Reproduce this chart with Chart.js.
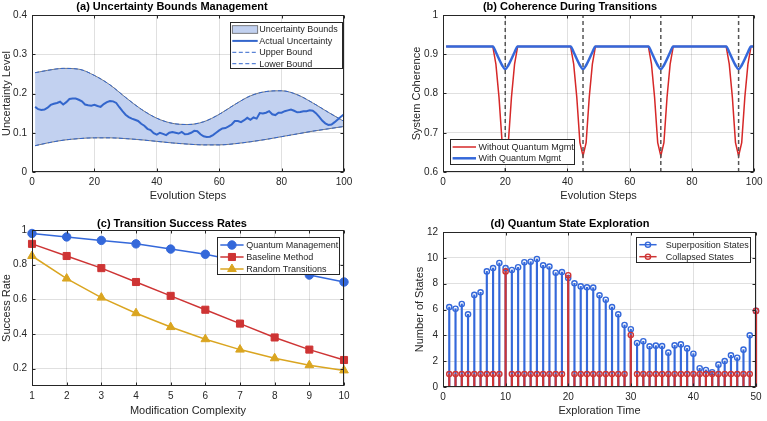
<!DOCTYPE html>
<html><head><meta charset="utf-8">
<script src="https://cdn.jsdelivr.net/npm/chart.js@4.4.0/dist/chart.umd.min.js"></script>
<style>
html,body{margin:0;padding:0;background:#fff;}
body{width:767px;height:421px;position:relative;overflow:hidden;}
canvas{position:absolute;display:block;}
</style></head><body>
<canvas id="ca" width="384" height="210" style="left:0;top:0"></canvas>
<canvas id="cb" width="383" height="210" style="left:384px;top:0"></canvas>
<canvas id="cc" width="384" height="211" style="left:0;top:210px"></canvas>
<canvas id="cd" width="383" height="211" style="left:384px;top:210px"></canvas>
<script>
// ---------- DATA ----------
// (a) Uncertainty Bounds Management
const actualUncertainty = [0.166,0.160,0.158,0.159,0.164,0.171,0.174,0.176,0.179,0.172,
0.178,0.186,0.187,0.187,0.184,0.180,0.172,0.170,0.169,0.171,
0.168,0.166,0.173,0.178,0.181,0.180,0.176,0.165,0.155,0.146,
0.140,0.136,0.133,0.130,0.123,0.118,0.110,0.107,0.099,0.095,
0.100,0.097,0.094,0.100,0.102,0.100,0.098,0.102,0.096,0.097,
0.100,0.105,0.104,0.096,0.091,0.089,0.090,0.094,0.100,0.106,
0.111,0.112,0.116,0.121,0.130,0.130,0.127,0.132,0.138,0.133,
0.139,0.136,0.150,0.149,0.151,0.155,0.147,0.145,0.151,0.151,
0.155,0.157,0.159,0.156,0.152,0.153,0.155,0.155,0.157,0.156,
0.150,0.141,0.131,0.124,0.120,0.121,0.127,0.134,0.141,0.147];
const boundSteps = [1,5,10,15,20,25,30,35,40,45,50,55,60,65,70,75,80,85,90,95,100];
const upperBound = [0.253,0.259,0.264,0.262,0.246,0.222,0.190,0.160,0.137,0.124,0.121,0.128,0.147,0.172,0.194,0.205,0.207,0.197,0.176,0.152,0.129];
const lowerBound = [0.067,0.074,0.081,0.085,0.087,0.087,0.085,0.082,0.078,0.074,0.071,0.069,0.069,0.072,0.077,0.083,0.090,0.097,0.104,0.110,0.116];
const aXTicks = [0,20,40,60,80,100];
const aYTicks = [0,0.1,0.2,0.3,0.4];

// (b) Coherence During Transitions
const cohSteps = [1,16,17,18,19,20,21,22,23,24,41,42,43,44,45,46,47,48,49,66,67,68,69,70,71,72,73,74,91,92,93,94,95,96,97,98,99,100];
const cohWithout = [0.92,0.92,0.875,0.79,0.675,0.641,0.675,0.79,0.875,0.92,
0.92,0.875,0.79,0.675,0.641,0.675,0.79,0.875,0.92,
0.92,0.875,0.79,0.675,0.641,0.675,0.79,0.875,0.92,
0.92,0.875,0.79,0.675,0.641,0.675,0.79,0.875,0.92,0.92];
const cohWith = [0.92,0.92,0.905,0.888,0.872,0.862,0.872,0.888,0.905,0.92,
0.92,0.905,0.888,0.872,0.862,0.872,0.888,0.905,0.92,
0.92,0.905,0.888,0.872,0.862,0.872,0.888,0.905,0.92,
0.92,0.905,0.888,0.872,0.862,0.872,0.888,0.905,0.92,0.92];
const transitionSteps = [20,45,70,95];
const bXTicks = [0,20,40,60,80,100];
const bYTicks = [0.6,0.7,0.8,0.9,1];

// (c) Transition Success Rates
const complexity = [1,2,3,4,5,6,7,8,9,10];
const quantumMgmt = [0.98,0.96,0.94,0.92,0.89,0.86,0.82,0.78,0.74,0.70];
const baselineMethod = [0.92,0.85,0.78,0.70,0.62,0.54,0.46,0.38,0.31,0.25];
const randomTransitions = [0.85,0.72,0.61,0.52,0.44,0.37,0.31,0.26,0.22,0.19];
const cXTicks = [1,2,3,4,5,6,7,8,9,10];
const cYTicks = [0.2,0.4,0.6,0.8,1];

// (d) Quantum State Exploration
const exploreTime = [1,2,3,4,5,6,7,8,9,10,11,12,13,14,15,16,17,18,19,20,21,22,23,24,25,26,27,28,29,30,31,32,33,34,35,36,37,38,39,40,41,42,43,44,45,46,47,48,49,50];
const superpositionStates = [6.19,6.06,6.43,5.63,7.13,7.33,8.95,9.21,9.60,9.20,
9.06,9.27,9.66,9.70,9.91,9.42,9.32,8.85,8.90,8.44,
8.03,7.79,7.72,7.69,7.10,6.76,6.19,5.63,4.80,4.47,
3.41,3.54,3.15,3.20,3.17,2.66,3.22,3.30,2.99,2.58,
1.45,1.32,1.14,1.73,2.01,2.45,2.27,2.89,4.00,5.89];
const collapsedStates = [1,1,1,1,1,1,1,1,1,8.95,
1,1,1,1,1,1,1,1,1,8.65,
1,1,1,1,1,1,1,1,1,4.03,
1,1,1,1,1,1,1,1,1,1,
1,1,1,1,1,1,1,1,1,5.89];
const dXTicks = [0,10,20,30,40,50];
const dYTicks = [0,2,4,6,8,10,12];

// ---------- STYLE ----------
const FONT = "'Liberation Sans', Arial, Helvetica, sans-serif";
const TXT = '#262626';
const GRID = 'rgba(0,0,0,0.12)';
const BLUE = 'rgb(51,102,204)';
const BLUE2 = 'rgb(52,104,218)';
const RED = 'rgb(214,40,40)';
const RED2 = 'rgb(206,52,52)';
const GOLD = 'rgb(218,165,32)';
const FILL = 'rgb(194,209,240)';
const EDGE = 'rgba(70,70,70,0.85)';

function drawMarker(ctx, style, x, y, r, fill, stroke, lw){
  ctx.beginPath();
  if(style==='circle'){ ctx.arc(x,y,r,0,Math.PI*2); }
  else if(style==='rect'){ const h=Math.SQRT1_2*r; ctx.rect(x-h,y-h,2*h,2*h); }
  else if(style==='triangle'){
    let a=0; const t=2*Math.PI/3;
    ctx.moveTo(x+Math.sin(a)*r, y-Math.cos(a)*r); a+=t;
    ctx.lineTo(x+Math.sin(a)*r, y-Math.cos(a)*r); a+=t;
    ctx.lineTo(x+Math.sin(a)*r, y-Math.cos(a)*r); ctx.closePath();
  }
  if(fill){ ctx.fillStyle=fill; ctx.fill(); }
  if(stroke){ ctx.strokeStyle=stroke; ctx.lineWidth=lw; ctx.stroke(); }
}

const boxPlugin = {
  id:'matBox',
  afterDatasetsDraw(chart){
    const {ctx, chartArea:a, scales:{x,y}} = chart;
    ctx.save();
    ctx.strokeStyle = TXT; ctx.lineWidth = 1;
    const L=Math.round(a.left)+0.5, R=Math.round(a.right)-0.5, T=Math.round(a.top)+0.5, B=Math.round(a.bottom)-0.5;
    const tl = 3;
    ctx.beginPath();
    x.ticks.forEach(t=>{ const p=Math.round(x.getPixelForValue(t.value))+0.5;
      ctx.moveTo(p,B); ctx.lineTo(p,B-tl); ctx.moveTo(p,T); ctx.lineTo(p,T+tl); });
    y.ticks.forEach(t=>{ const p=Math.round(y.getPixelForValue(t.value))+0.5;
      ctx.moveTo(L,p); ctx.lineTo(L+tl,p); ctx.moveTo(R,p); ctx.lineTo(R-tl,p); });
    ctx.stroke();
    ctx.strokeRect(L,T,R-L,B-T);
    ctx.restore();
  }
};

const legendPlugin = {
  id:'matLegend',
  afterDraw(chart, args, o){
    if(!o || !o.items) return;
    const ctx = chart.ctx, ds = chart.data.datasets;
    ctx.save();
    ctx.fillStyle='#fff'; ctx.fillRect(o.x,o.y,o.w,o.h);
    ctx.strokeStyle=TXT; ctx.lineWidth=1;
    ctx.strokeRect(Math.round(o.x)+0.5, Math.round(o.y)+0.5, Math.round(o.w), Math.round(o.h));
    o.items.forEach((it,i)=>{
      const cy = o.y + o.row0 + i*o.rowH;
      const x0 = o.x + o.s0, x1 = o.x + o.s1;
      if(it.kind==='patch'){
        ctx.fillStyle=it.fill; ctx.fillRect(x0,cy-3.8,x1-x0,7.6);
        ctx.strokeStyle=it.stroke; ctx.lineWidth=0.8; ctx.strokeRect(x0,cy-3.8,x1-x0,7.6);
      } else {
        ctx.strokeStyle=it.color; ctx.lineWidth=it.width; ctx.setLineDash(it.dash||[]);
        ctx.beginPath(); ctx.moveTo(x0,cy); ctx.lineTo(it.lineEnd!==undefined ? o.x+it.lineEnd : x1,cy); ctx.stroke();
        ctx.setLineDash([]);
        if(it.marker){
          const m = it.marker;
          const mx = m.at!==undefined ? o.x+m.at : (x0+x1)/2;
          drawMarker(ctx, m.style, mx, cy, m.r, m.fill, m.stroke, m.lw);
        }
      }
      ctx.fillStyle=TXT; ctx.font = '9px '+FONT; ctx.textBaseline='middle'; ctx.textAlign='left';
      ctx.fillText(ds[it.ds].label, o.x+o.tx, cy+0.5);
    });
    ctx.restore();
  }
};

function scaleX(c){
  return {type:'linear', min:c.min, max:c.max, offset:false,
    afterBuildTicks:s=>{ s.ticks = c.ticks.map(v=>({value:v})); },
    afterFit:s=>{ s.height = c.h; },
    grid:{color:GRID, lineWidth:1, drawTicks:false, offset:false},
    border:{display:false},
    ticks:{padding:4.5, color:TXT, font:{family:FONT,size:10}, maxRotation:0, autoSkip:false, callback:v=>String(v)},
    title:{display:true, text:c.title, color:TXT, font:{family:FONT,size:11,lineHeight:1.2}, padding:{top:0,bottom:c.tp}}
  };
}
function scaleY(c){
  return {type:'linear', min:c.min, max:c.max,
    afterBuildTicks:s=>{ s.ticks = c.ticks.map(v=>({value:v})); },
    afterFit:s=>{ s.width = c.w; },
    grid:{color:GRID, lineWidth:1, drawTicks:false},
    border:{display:false},
    ticks:{padding:5, color:TXT, font:{family:FONT,size:10}, autoSkip:false, callback:v=>String(v)},
    title:{display:true, text:c.title, color:TXT, font:{family:FONT,size:11,lineHeight:1.2}, padding:{top:c.tp,bottom:0}}
  };
}
function baseOpts(c){
  return {
    responsive:false, animation:false, events:[],
    layout:{padding:{left:0,right:c.pr,top:c.pt,bottom:0}, autoPadding:false},
    plugins:{
      legend:{display:false}, tooltip:{enabled:false},
      title:{display:true, text:c.title, color:'#000', font:{family:FONT,size:11,weight:'bold',lineHeight:c.tlh+'px'}, padding:{top:0,bottom:c.tpb}},
      matLegend:c.legend
    },
    scales:{x:scaleX(c.x), y:scaleY(c.y)}
  };
}
const pts = (xs,ys)=>xs.map((x,i)=>({x:x,y:ys[i]}));

// ---------- (a) ----------
new Chart(document.getElementById('ca'), {
  type:'line',
  data:{datasets:[
    {label:'Uncertainty Bounds', data:pts(boundSteps,upperBound), borderColor:EDGE, borderWidth:0.8, backgroundColor:FILL, fill:'+1', pointRadius:0, cubicInterpolationMode:'monotone', order:5},
    {label:'', data:pts(boundSteps,lowerBound), borderColor:EDGE, borderWidth:0.8, fill:false, pointRadius:0, cubicInterpolationMode:'monotone', order:4},
    {label:'Actual Uncertainty', data:actualUncertainty.map((v,i)=>({x:i+1,y:v})), borderColor:BLUE, borderWidth:2, fill:false, pointRadius:0, order:3},
    {label:'Upper Bound', data:pts(boundSteps,upperBound), borderColor:BLUE, borderWidth:1, borderDash:[4,2.5], fill:false, pointRadius:0, cubicInterpolationMode:'monotone', order:2},
    {label:'Lower Bound', data:pts(boundSteps,lowerBound), borderColor:BLUE, borderWidth:1, borderDash:[4,2.5], fill:false, pointRadius:0, cubicInterpolationMode:'monotone', order:1}
  ]},
  options: baseOpts({pr:40, pt:0, title:'(a) Uncertainty Bounds Management', tlh:14, tpb:1,
    x:{min:0,max:100,ticks:aXTicks,h:38,title:'Evolution Steps',tp:7.4},
    y:{min:0,max:0.4,ticks:aYTicks,w:32,title:'Uncertainty Level',tp:0.7},
    legend:{x:230,y:22,w:112,h:46,row0:7.5,rowH:11.4,s0:2.3,s1:27.7,tx:29.3,items:[
      {ds:0,kind:'patch',fill:FILL,stroke:EDGE},
      {ds:2,color:BLUE,width:2},
      {ds:3,color:BLUE,width:1,dash:[4,2.5]},
      {ds:4,color:BLUE,width:1,dash:[4,2.5]}
    ]}
  }),
  plugins:[boxPlugin, legendPlugin]
});

// ---------- (b) ----------
const bDatasets = [
  {label:'Without Quantum Mgmt', data:pts(cohSteps,cohWithout), borderColor:RED, borderWidth:1.5, fill:false, pointRadius:0, order:10},
  {label:'With Quantum Mgmt', data:pts(cohSteps,cohWith), borderColor:BLUE2, borderWidth:2.5, fill:false, pointRadius:0, cubicInterpolationMode:'monotone', order:9}
];
transitionSteps.forEach((t,i)=>bDatasets.push({label:'', data:[{x:t,y:bYTicks[0]},{x:t,y:bYTicks[bYTicks.length-1]}], borderColor:'rgb(85,85,85)', borderWidth:1.5, borderDash:[4,3], fill:false, pointRadius:0, order:1}));
new Chart(document.getElementById('cb'), {
  type:'line',
  data:{datasets:bDatasets},
  options: baseOpts({pr:11, pt:0, title:'(b) Coherence During Transitions', tlh:14, tpb:1,
    x:{min:0,max:100,ticks:bXTicks,h:38,title:'Evolution Steps',tp:7.4},
    y:{min:0.6,max:1,ticks:bYTicks,w:59,title:'System Coherence',tp:26.7},
    legend:{x:66,y:139,w:123.5,h:25,row0:8,rowH:11.3,s0:2.6,s1:26,tx:28.6,items:[
      {ds:0,color:RED,width:1.5},
      {ds:1,color:BLUE2,width:2.5}
    ]}
  }),
  plugins:[boxPlugin, legendPlugin]
});

// ---------- (c) ----------
new Chart(document.getElementById('cc'), {
  type:'line',
  data:{datasets:[
    {label:'Quantum Management', data:pts(complexity,quantumMgmt), borderColor:BLUE2, backgroundColor:BLUE2, borderWidth:1.5, pointStyle:'circle', pointRadius:4.2, pointBorderWidth:1, pointBackgroundColor:BLUE2, pointBorderColor:BLUE2, fill:false, clip:false, order:3},
    {label:'Baseline Method', data:pts(complexity,baselineMethod), borderColor:RED2, backgroundColor:RED2, borderWidth:1.5, pointStyle:'rect', pointRadius:5, pointBorderWidth:1, pointBackgroundColor:RED2, pointBorderColor:RED2, fill:false, clip:false, order:2},
    {label:'Random Transitions', data:pts(complexity,randomTransitions), borderColor:GOLD, backgroundColor:GOLD, borderWidth:1.5, pointStyle:'triangle', pointRadius:5, pointBorderWidth:1, pointBackgroundColor:GOLD, pointBorderColor:GOLD, fill:false, clip:false, order:1}
  ]},
  options: baseOpts({pr:40, pt:8, title:'(c) Transition Success Rates', tlh:12, tpb:0,
    x:{min:1,max:10,ticks:cXTicks,h:35,title:'Modification Complexity',tp:3.4},
    y:{min:0.1,max:1,ticks:cYTicks,w:32,title:'Success Rate',tp:0.7},
    legend:{x:217,y:27,w:121.5,h:37,row0:8,rowH:12,s0:3.3,s1:26.6,tx:29.3,items:[
      {ds:0,color:BLUE2,width:1.5,marker:{style:'circle',r:4.2,fill:BLUE2,stroke:BLUE2,lw:1}},
      {ds:1,color:RED2,width:1.5,marker:{style:'rect',r:5,fill:RED2,stroke:RED2,lw:1}},
      {ds:2,color:GOLD,width:1.5,marker:{style:'triangle',r:5,fill:GOLD,stroke:GOLD,lw:1}}
    ]}
  }),
  plugins:[boxPlugin, legendPlugin]
});

// ---------- (d) ----------
const dOpts = baseOpts({pr:11, pt:8, title:'(d) Quantum State Exploration', tlh:12, tpb:2,
    x:{min:0,max:50,ticks:dXTicks,h:34,title:'Exploration Time',tp:3.4},
    y:{min:0,max:12,ticks:dYTicks,w:59,title:'Number of States',tp:29.4},
    legend:{x:252,y:27,w:114,h:25,row0:7.7,rowH:12,s0:3.3,s1:20.6,tx:29.7,items:[
      {ds:0,color:BLUE2,width:1.5,marker:{style:'circle',r:2.6,fill:null,stroke:BLUE2,lw:1.4}},
      {ds:2,color:RED2,width:1.5,marker:{style:'circle',r:2.6,fill:null,stroke:RED2,lw:1.4}}
    ]}
  });
new Chart(document.getElementById('cd'), {
  type:'bar',
  data:{datasets:[
    {type:'bar', label:'Superposition States', data:pts(exploreTime,superpositionStates), backgroundColor:BLUE2, borderWidth:0, barThickness:1.5, grouped:false, clip:false, order:4},
    {type:'line', label:'', data:pts(exploreTime,superpositionStates), showLine:false, pointStyle:'circle', pointRadius:2.6, pointBorderWidth:1.4, pointBorderColor:BLUE2, pointBackgroundColor:'rgba(0,0,0,0)', clip:false, order:3},
    {type:'bar', label:'Collapsed States', data:pts(exploreTime,collapsedStates), backgroundColor:RED2, borderWidth:0, barThickness:1.5, grouped:false, clip:false, order:2},
    {type:'line', label:'', data:pts(exploreTime,collapsedStates), showLine:false, pointStyle:'circle', pointRadius:2.6, pointBorderWidth:1.4, pointBorderColor:RED2, pointBackgroundColor:'rgba(0,0,0,0)', clip:false, order:1}
  ]},
  options: dOpts,
  plugins:[boxPlugin, legendPlugin]
});
</script>
</body></html>
